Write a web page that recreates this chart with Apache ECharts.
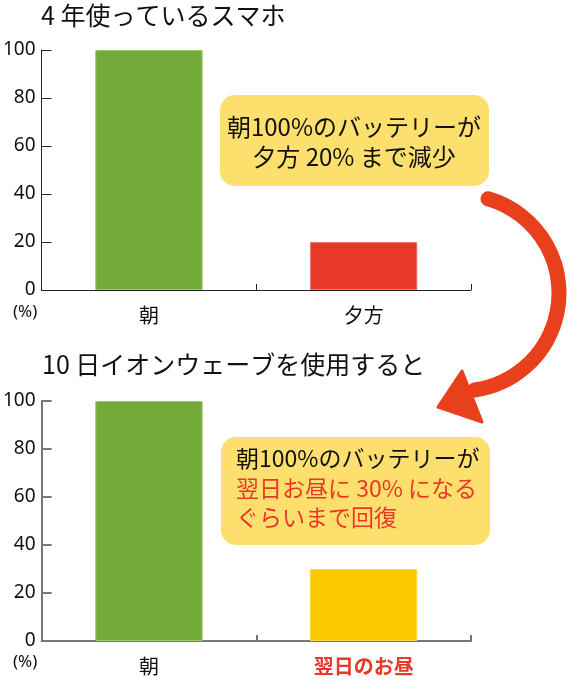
<!DOCTYPE html>
<html>
<head>
<meta charset="utf-8">
<script src="https://cdn.jsdelivr.net/npm/echarts@6/dist/echarts.min.js"></script>
<style>
  html, body { margin: 0; padding: 0; background: #fff; }
  #chart { width: 569px; height: 682px; }
</style>
</head>
<body>
<div id="chart"></div>
<script>
// データ
const categoriesBefore = ['朝', '夕方'];
const valuesBefore = [100, 20];
const categoriesAfter = ['朝', '翌日のお昼'];
const valuesAfter = [100, 30];
const yMin = 0;
const yMax = 100;
const yInterval = 20;

// 色
const colorsBefore = ['#72AB37', '#E83828'];
const colorsAfter = ['#72AB37', '#FCC800'];
const bordersBefore = ['#9CC86E', '#F07A6E'];
const bordersAfter = ['#9CC86E', '#FCD84A'];

const cjk = '"Noto Sans CJK JP", "Noto Sans", sans-serif';
const num = '"Noto Sans", "Noto Sans CJK JP", sans-serif';
const red = '#E83828';
const calloutFill = '#FDDF6E';
const arrowRed = '#E8401C';

var myChart = echarts.init(document.getElementById('chart'));

function yAxisOf(gridIndex, lineColor, lineWidth) {
    return {
        type: 'value',
        gridIndex: gridIndex,
        min: yMin,
        max: yMax,
        interval: yInterval,
        axisLine: { show: true, lineStyle: { color: lineColor, width: lineWidth } },
        axisTick: { show: true, inside: true, length: 10, lineStyle: { color: lineColor, width: lineWidth } },
        axisLabel: { color: '#111', fontSize: 19, fontFamily: num, margin: 6 },
        splitLine: { show: false }
    };
}

function xAxisOf(gridIndex, cats, lineColor, lineWidth, highlight) {
    return {
        type: 'category',
        gridIndex: gridIndex,
        data: cats,
        axisLine: { show: true, lineStyle: { color: lineColor, width: lineWidth } },
        axisTick: { show: true, inside: true, length: 6, lineStyle: { color: lineColor, width: lineWidth } },
        axisLabel: {
            margin: 15,
            formatter: function (value, index) {
                return (highlight && index === 1) ? '{hi|' + value + '}' : '{n|' + value + '}';
            },
            rich: {
                n: { fontSize: 20, fontFamily: cjk, color: '#111' },
                hi: { fontSize: 20, fontFamily: cjk, color: red, fontWeight: 'bold' }
            }
        }
    };
}

function barData(values, colors, borders) {
    return values.map(function (v, i) {
        return { value: v, itemStyle: { color: colors[i], borderColor: borders[i], borderWidth: 1 } };
    });
}

function label(x, y, text, size, color, align, family) {
    return {
        type: 'text', x: x, y: y, z: 5,
        style: {
            text: text, fontSize: size, fontFamily: family || cjk, fill: color,
            align: align || 'left', verticalAlign: 'middle'
        }
    };
}

let options = {
    animation: false,
    grid: [
        { left: 41, right: 98, top: 50, height: 240 },
        { left: 41, right: 98, top: 401, height: 240 }
    ],
    xAxis: [
        xAxisOf(0, categoriesBefore, '#222', 1, false),
        xAxisOf(1, categoriesAfter, '#777', 2, true)
    ],
    yAxis: [
        yAxisOf(0, '#222', 1),
        yAxisOf(1, '#777', 2)
    ],
    series: [
        {
            type: 'bar',
            xAxisIndex: 0,
            yAxisIndex: 0,
            barWidth: '50%',
            data: barData(valuesBefore, colorsBefore, bordersBefore)
        },
        {
            type: 'bar',
            xAxisIndex: 1,
            yAxisIndex: 1,
            barWidth: '50%',
            data: barData(valuesAfter, colorsAfter, bordersAfter)
        }
    ],
    graphic: [
        // タイトル
        label(41, 15, '4 年使っているスマホ', 25, '#111'),
        label(42, 364, '10 日イオンウェーブを使用すると', 25, '#111'),
        // (%)
        label(13, 312, '(%)', 17, '#111', 'left', num),
        label(13, 662, '(%)', 17, '#111', 'left', num),
        // 吹き出し 1
        { type: 'rect', shape: { x: 220, y: 95, width: 269, height: 91, r: 15 }, style: { fill: calloutFill } },
        label(354, 127, '朝100%のバッテリーが', 24, '#111', 'center'),
        label(354, 157, '夕方 20% まで減少', 24, '#111', 'center'),
        // 吹き出し 2
        { type: 'rect', shape: { x: 221, y: 437, width: 269, height: 108, r: 15 }, style: { fill: calloutFill } },
        label(236, 458, '朝100%のバッテリーが', 23, '#111'),
        label(236, 488, '翌日お昼に 30% になる', 23, red),
        label(236, 517, 'ぐらいまで回復', 23, red),
        // 矢印
        {
            type: 'arc',
            shape: { cx: 461, cy: 293, r: 98, startAngle: -74 * Math.PI / 180, endAngle: 82 * Math.PI / 180, clockwise: true },
            style: { stroke: arrowRed, lineWidth: 15, fill: null, lineCap: 'round' },
            z: 10
        },
        {
            type: 'polygon',
            shape: { points: [[438, 407], [462, 371], [482, 422]] },
            style: { fill: arrowRed, stroke: arrowRed, lineWidth: 3, lineJoin: 'round' },
            z: 10
        }
    ]
};

myChart.setOption(options);
window.addEventListener('resize', function () {
    myChart.resize();
});
</script>
</body>
</html>
